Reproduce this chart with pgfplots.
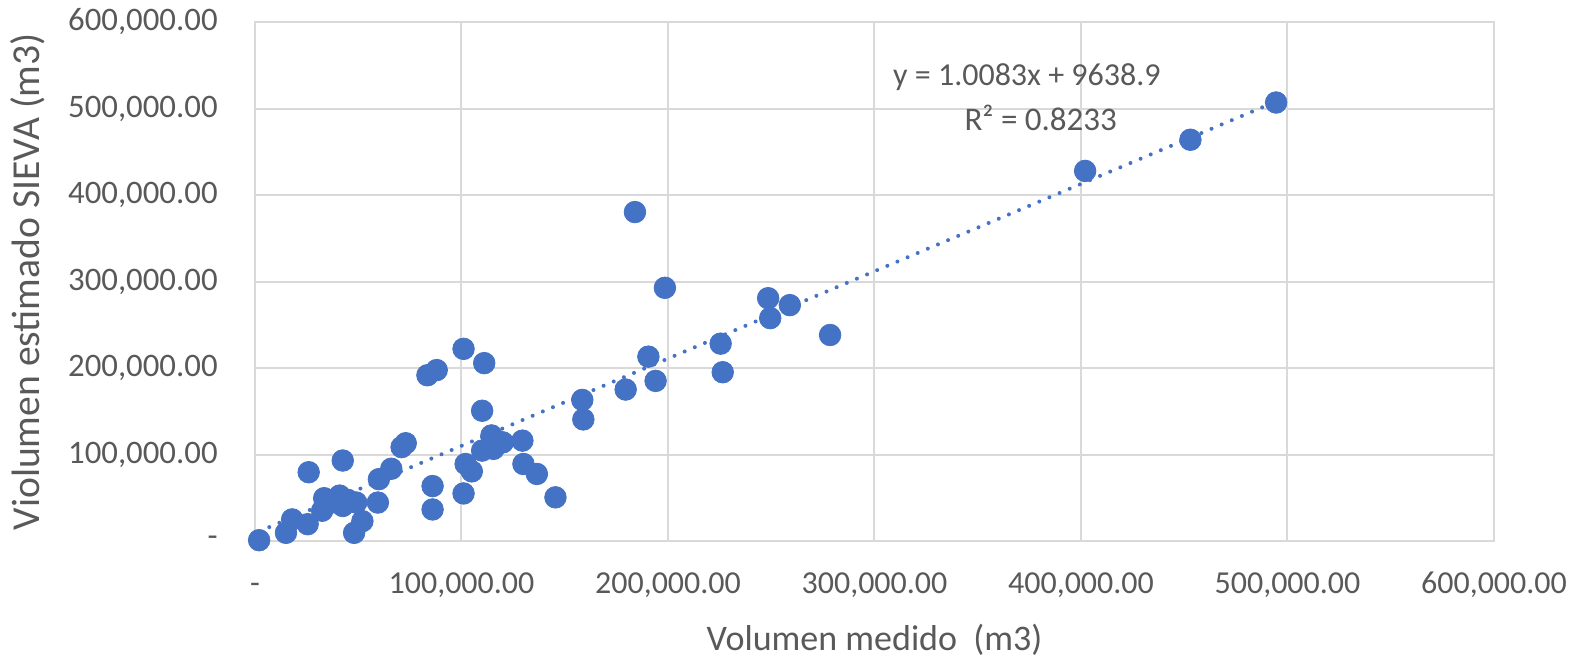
\documentclass[border=0pt]{standalone}
\usepackage{fontspec}
\setmainfont{Carlito}
\usepackage{pgfplots}
\pgfplotsset{compat=1.18}
\definecolor{mk}{HTML}{4472C4}
\definecolor{gridc}{HTML}{D9D9D9}
\definecolor{txt}{HTML}{595959}
\begin{document}
\begin{tikzpicture}
\useasboundingbox (-127.5pt,-57.7pt) rectangle (665pt,270.75pt);
\begin{axis}[
  at={(0,0)}, anchor=south west,
  scale only axis, width=619.5pt, height=259.75pt,
  xmin=0, xmax=600000, ymin=0, ymax=600000,
  xtick={0,100000,200000,300000,400000,500000,600000},
  ytick={0,100000,200000,300000,400000,500000,600000},
  xticklabels={{-},{100,000.00},{200,000.00},{300,000.00},{400,000.00},{500,000.00},{600,000.00}},
  yticklabels={{-},{100,000.00},{200,000.00},{300,000.00},{400,000.00},{500,000.00},{600,000.00}},
  scaled ticks=false,
  grid=major,
  major grid style={gridc, line width=1pt},
  axis line style={gridc, line width=1pt},
  tick style={draw=none},
  clip=false,
  tick label style={font=\fontsize{16}{19}\selectfont, text=txt},
  xticklabel style={anchor=base, yshift=-26pt, inner sep=0pt},
  yticklabel style={anchor=east, xshift=-18.5pt, inner sep=0pt, font=\fontsize{16.4}{19}\selectfont},
  xlabel={Volumen medido\ \ (m3)},
  ylabel={Violumen estimado SIEVA (m3)},
  label style={text=txt},
  xlabel style={font=\fontsize{18}{21}\selectfont, at={(axis description cs:0.5,-0.189)}, anchor=center},
  ylabel style={font=\fontsize{19.8}{23}\selectfont, at={(axis description cs:-0.183,0.5)}, anchor=center},
]
\addplot[mk, line width=2pt, line cap=round, dash pattern=on 0pt off 5.5pt]
  coordinates {(2000,11655) (494500,508243)};
\addplot[only marks, mark=*, mark size=5.4pt, mark options={draw=mk, fill=mk}] table {
x y
2000 1500
15000 10000
18000 25500
25500 20000
26000 80000
32500 35500
33500 50000
37000 45000
42500 93500
41000 53000
42500 41000
45000 48000
49000 45000
52000 23500
48000 10000
59500 45000
60000 72000
66000 84000
71000 109000
73000 113500
83500 192000
88000 198000
86000 64000
86000 37000
101000 222500
111000 206000
110000 151000
101000 55500
102000 89500
105000 81000
110000 105000
114500 122500
115500 107000
120000 114500
129500 116500
130000 89500
136500 78000
145500 51000
158500 163500
159000 141000
179500 175500
184000 380500
190500 213500
194000 185500
198500 293000
225500 228500
226500 195500
248500 281000
249500 258000
259000 273000
278500 238500
402000 428000
453000 464000
494500 507000
};
\node[font=\fontsize{16}{19}\selectfont, text=txt] at (axis cs:373800,536000) {y = 1.0083x + 9638.9};
\node[font=\fontsize{16.5}{19}\selectfont, text=txt] at (axis cs:380500,489500) {R² = 0.8233};
\end{axis}
\end{tikzpicture}
\end{document}
